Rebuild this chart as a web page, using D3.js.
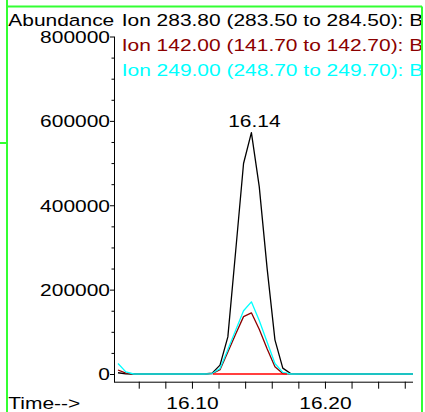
<!DOCTYPE html>
<html><head><meta charset="utf-8">
<script src="https://cdn.jsdelivr.net/npm/d3@7/dist/d3.min.js"></script>
<style>html,body{margin:0;padding:0;background:#fff;}svg{display:block;}</style>
</head><body>
<script>
// ---- data ----
const times = [16.0444,16.0503,16.0562,16.0621,16.0680,16.0739,16.0798,16.0857,16.0916,16.0975,
  16.1034,16.1093,16.1152,16.1211,16.1270,16.1329,16.1388,16.1447,16.1506,16.1565,
  16.1624,16.1683,16.1742,16.1801,16.1860,16.1919,16.1978,16.2037,16.2096,16.2155,
  16.2214,16.2273,16.2332,16.2391,16.2450,16.2509,16.2568,16.2627,16.2662];
const ion283 = [3000,500,0,0,0,0,0,0,0,0, 0,0,2000,21000,88000,292000,499000,572000,444000,251000,
  81000,14000,1000,0,0,0,0,0,0,0, 0,0,0,0,0,0,0,0,0];
const ion142 = [9500,2000,0,0,0,0,0,0,0,0, 0,0,1000,10000,52000,95000,136000,145000,106000,60000,
  17000,1000,0,0,0,0,0,0,0,0, 0,0,0,0,0,0,0,0,0];
const ion249 = [25000,5000,0,0,0,0,0,0,0,0, 0,0,1000,13000,58000,104000,150000,171000,127000,76000,
  25000,4000,0,0,0,0,0,0,0,0, 0,0,0,0,0,0,0,0,0];
const baseTimes = [16.1158, 16.1714];
const baseValues = [0, 0];
const legendLabels = ["Ion 283.80 (283.50 to 284.50): B","Ion 142.00 (141.70 to 142.70): B","Ion 249.00 (248.70 to 249.70): B"];
const legendColors = ["#000000","#8b0000","#00ffff"];
const yMajor = [0,200000,400000,600000,800000];
const yMinor = [50000,100000,150000,250000,300000,350000,450000,500000,550000,650000,700000,750000];
const xTicks = [16.06,16.08,16.10,16.12,16.14,16.16,16.18,16.20,16.22,16.24,16.26];
const xLabeled = [16.10, 16.20];
const peakLabel = {t: 16.1447, v: 572000, text: "16.14"};

// ---- drawing ----
const W = 425, H = 412;
const FONT = "'Liberation Sans', Arial, sans-serif";
const FS = 16.5, SX = 1.27;
const svg = d3.select("body").append("svg").attr("width", W).attr("height", H);
svg.append("rect").attr("width", W).attr("height", H).attr("fill", "#fff");

const x = d3.scaleLinear().domain([16.0414, 16.2662]).range([114, 413]);
const y = d3.scaleLinear().domain([0, 800000]).range([374, 36.5]);

function txt(g, tx, ty, s, anchor, color) {
  return g.append("text").attr("transform", `translate(${tx},${ty}) scale(${SX},1)`)
    .attr("text-anchor", anchor).attr("font-family", FONT).attr("font-size", FS)
    .attr("fill", color).text(s);
}

svg.append("defs").append("clipPath").attr("id", "clipR")
  .append("rect").attr("x", 0).attr("y", 0).attr("width", 421).attr("height", H);

// axes
const gx = svg.append("g").attr("transform", "translate(0,381.7)")
  .call(d3.axisBottom(x).tickValues(xTicks).tickSize(7).tickSizeOuter(0)
    .tickFormat(d => xLabeled.some(v => Math.abs(v - d) < 1e-6) ? d3.format(".2f")(d) : ""));
gx.select(".domain").attr("stroke", "#000").attr("d", `M114,0.5H413`);
gx.selectAll(".tick line").attr("stroke", "#000");
gx.selectAll(".tick text").attr("y", null).attr("dy", null)
  .attr("transform", `translate(0,27.7) scale(${SX},1)`)
  .attr("font-family", FONT).attr("font-size", FS).attr("fill", "#000");

const gyMinor = svg.append("g").attr("transform", "translate(114,0)")
  .call(d3.axisLeft(y).tickValues(yMinor).tickSize(2.5).tickSizeOuter(0).tickFormat(""));
gyMinor.select(".domain").remove();
gyMinor.selectAll(".tick line").attr("stroke", "#000");

const gy = svg.append("g").attr("transform", "translate(114,0)")
  .call(d3.axisLeft(y).tickValues(yMajor).tickSize(4).tickSizeOuter(0).tickFormat(d3.format("d")));
gy.select(".domain").attr("stroke", "#000").attr("d", `M0.5,${y(800000)}V382.2`);
gy.selectAll(".tick line").attr("stroke", "#000");
gy.selectAll(".tick text").attr("x", null).attr("dy", null)
  .attr("transform", `translate(-4,5.8) scale(${SX},1)`)
  .attr("font-family", FONT).attr("font-size", FS).attr("fill", "#000").attr("text-anchor", "end");

// traces
const line = d3.line().x(d => x(d[0])).y(d => y(d[1]));
const series = [
  {vals: ion283, color: legendColors[0]},
  {vals: ion142, color: legendColors[1]},
  {vals: ion249, color: legendColors[2]}
];
series.forEach(s => {
  svg.append("path").datum(times.map((t, i) => [t, s.vals[i]]))
    .attr("d", line).attr("fill", "none").attr("stroke", s.color).attr("stroke-width", 1.3)
    .attr("stroke-linejoin", "round");
});
svg.append("path").datum(baseTimes.map((t, i) => [t, baseValues[i]]))
  .attr("d", line).attr("fill", "none").attr("stroke", "#ff0000").attr("stroke-width", 1.3);

// texts
txt(svg, 8.3, 25.5, "Abundance", "start", "#000");
const gl = svg.append("g").attr("clip-path", "url(#clipR)");
legendLabels.forEach((s, i) => txt(gl, 121.7, 25.5 + i * 25.2, s, "start", legendColors[i]));
txt(svg, x(peakLabel.t) + 3, y(peakLabel.v) - 6, peakLabel.text, "middle", "#000");
txt(svg, 8.3, 409.4, "Time-->", "start", "#000");

// green frame
const G = "#33ff33";
[[7,0,7,H],[7,6.5,422,6.5],[422,6.5,422,H],[0,143,7,143]].forEach(l => {
  svg.append("line").attr("x1", l[0]).attr("y1", l[1]).attr("x2", l[2]).attr("y2", l[3])
    .attr("stroke", G).attr("stroke-width", 2);
});
</script>
</body></html>
